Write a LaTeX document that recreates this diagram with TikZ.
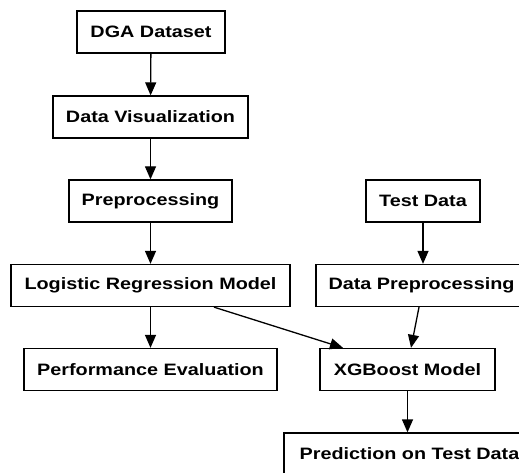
\documentclass[tikz,border=0pt]{standalone}
\usepackage{fontspec}
\setmainfont{Liberation Sans}[FakeStretch=1.2]
\usetikzlibrary{arrows.meta,positioning}

\begin{document}
\begin{tikzpicture}[x=1pt,y=-1pt,
    stagebox/.style={draw,line width=1.3pt,inner sep=0pt,minimum height=42pt,
        font=\fontsize{16.5}{20}\selectfont\bfseries},
    flow/.style={line width=1.3pt,-{Triangle[length=13pt,width=11pt]}}]
    \useasboundingbox (0,0) rectangle (519,473);
    \fill[white] (0,0) rectangle (519,473);
    \node[stagebox,minimum width=148pt] (dga) at (151,32) {DGA Dataset};
    \node[stagebox,minimum width=195pt] (vis) at (150.5,117) {Data Visualization};
    \node[stagebox,minimum width=163pt] (prep) at (150.5,201) {Preprocessing};
    \node[stagebox,minimum width=279pt] (lr) at (150.5,285.5) {Logistic Regression Model};
    \node[stagebox,minimum width=253pt] (perf) at (150.5,369.5) {Performance Evaluation};
    %%
    \node[stagebox,minimum width=114pt] (test) at (423,201) {Test Data};
    \node[stagebox,minimum width=211pt] (dp) at (421.5,285.5) {Data Preprocessing};
    \node[stagebox,minimum width=175pt] (xgb) at (407.5,369.5) {XGBoost Model};
    \node[stagebox,minimum width=251pt] (pred) at (409.5,454) {Prediction on Test Data};
    %%
    \draw[flow] (dga) -- (vis);
    \draw[flow] (vis) -- (prep);
    \draw[flow] (prep) -- (lr);
    \draw[flow] (lr) -- (perf);
    \draw[flow] (test.south) -- (test.south |- dp.north);
    \draw[flow] ([xshift=63.5pt]lr.south) -- ([xshift=-64.5pt]xgb.north);
    \draw[flow] ([xshift=-2.5pt]dp.south) -- ([xshift=3.5pt]xgb.north);
    \draw[flow] (xgb.south) -- (xgb.south |- pred.north);
\end{tikzpicture}
\end{document}
